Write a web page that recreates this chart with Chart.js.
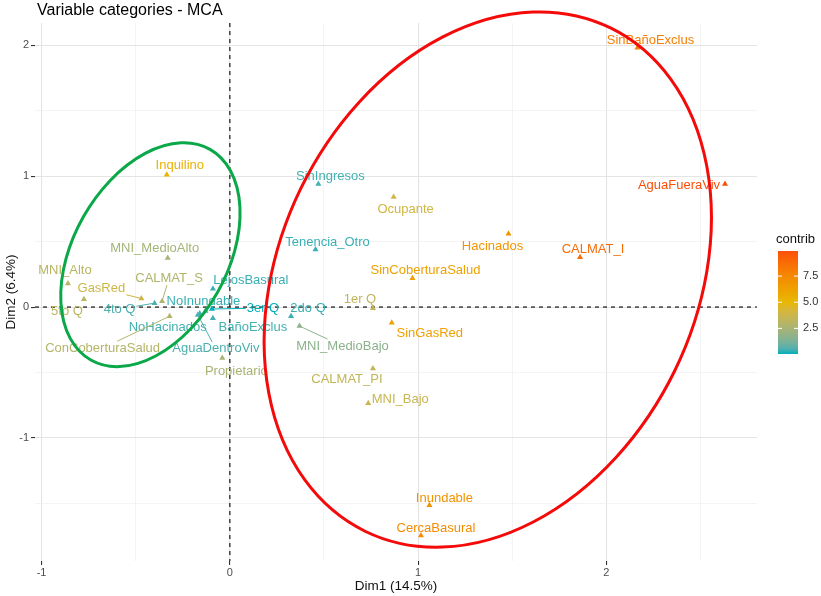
<!DOCTYPE html>
<html>
<head>
<meta charset="utf-8">
<script src="https://cdn.jsdelivr.net/npm/chart.js@4.4.1/dist/chart.umd.min.js"></script>
<style>
  html, body { margin: 0; padding: 0; background: #fff; }
  #wrap { width: 821px; height: 596px; }
</style>
</head>
<body>
<div id="wrap"><canvas id="mca" width="821" height="596"></canvas></div>
<script>
// ---- data ----
const categories = [
  'SinBañoExclus', 'AguaFueraViv', 'CALMAT_I', 'Hacinados', 'SinCoberturaSalud',
  'Ocupante', 'SinIngresos', 'Tenencia_Otro', '1er Q', 'SinGasRed',
  'MNI_MedioBajo', 'CALMAT_PI', 'MNI_Bajo', 'Inundable', 'CercaBasural',
  '2do Q', '3er Q', 'LejosBasural', 'NoInundable', 'NoHacinados',
  'AguaDentroViv', 'BañoExclus', '4to Q', '5to Q', 'GasRed',
  'MNI_Alto', 'CALMAT_S', 'ConCoberturaSalud', 'MNI_MedioAlto', 'Inquilino',
  'Propietario'
];
const dim1 = [
  2.165, 2.63, 1.86, 1.48, 0.97,
  0.87, 0.47, 0.455, 0.76, 0.86,
  0.37, 0.76, 0.735, 1.06, 1.015,
  0.325, -0.095, -0.09, -0.13, -0.16,
  -0.17, -0.09, -0.40, -0.775, -0.47,
  -0.86, -0.36, -0.32, -0.33, -0.335,
  -0.04
];
const dim2 = [
  1.98, 0.94, 0.38, 0.56, 0.22,
  0.84, 0.94, 0.44, -0.01, -0.12,
  -0.145, -0.47, -0.735, -1.515, -1.745,
  -0.07, -0.015, 0.14, -0.03, -0.05,
  -0.06, -0.085, 0.03, 0.06, 0.065,
  0.18, 0.045, -0.07, 0.375, 1.01,
  -0.39
];
const contrib = [
  8.0, 9.9, 8.8, 6.9, 6.2,
  4.0, 0.4, 0.3, 3.4, 6.3,
  1.7, 3.4, 3.6, 7.0, 7.3,
  0.3, 0.05, 0.3, 0.3, 0.4,
  0.5, 0.4, 0.5, 3.2, 3.9,
  3.1, 2.8, 2.9, 2.4, 5.3,
  2.5
];
const axisTicks = [-1, 0, 1, 2];
const legendTicks = [2.5, 5.0, 7.5];

// ---- label placement (ggrepel-like offsets, px) ----
const labelShift = [
  [13, -7], [-46, 1], [13, -8], [-16, 13], [13, -8],
  [12, 12], [12, -8], [12, -7], [-13, -9], [38, 11],
  [43, 20], [-26, 11], [32, -4], [15, -7], [15, -7],
  [17, -8], [51, -1], [38, -8], [-2, -10], [-32, 14],
  [18, 34], [40, 9], [-35, 6], [-17, 12], [-40, -10],
  [-3, -13], [7, -23], [-67, 32], [-13, -10], [13, -9],
  [14, 13]
];
const withSegment = ['MNI_MedioBajo', '3er Q', '4to Q', 'GasRed', 'CALMAT_S', 'ConCoberturaSalud', 'AguaDentroViv'];

const gradientCols = ['#00AFBB', '#E7B800', '#FC4E07'];
const cMin = Math.min(...contrib), cMax = Math.max(...contrib);

// colour ramp interpolated in CIELAB, like ggplot's gradientn
function toLab(hex) {
  const rgb = [1, 3, 5].map(i => {
    const c = parseInt(hex.slice(i, i + 2), 16) / 255;
    return c <= 0.04045 ? c / 12.92 : Math.pow((c + 0.055) / 1.055, 2.4);
  });
  const X = (rgb[0] * 0.4124 + rgb[1] * 0.3576 + rgb[2] * 0.1805) / 0.95047;
  const Y = rgb[0] * 0.2126 + rgb[1] * 0.7152 + rgb[2] * 0.0722;
  const Z = (rgb[0] * 0.0193 + rgb[1] * 0.1192 + rgb[2] * 0.9505) / 1.08883;
  const f = t => t > 0.008856 ? Math.cbrt(t) : 7.787 * t + 16 / 116;
  return [116 * f(Y) - 16, 500 * (f(X) - f(Y)), 200 * (f(Y) - f(Z))];
}
function fromLab(lab) {
  const fy = (lab[0] + 16) / 116, fx = fy + lab[1] / 500, fz = fy - lab[2] / 200;
  const g = t => t * t * t > 0.008856 ? t * t * t : (t - 16 / 116) / 7.787;
  const X = g(fx) * 0.95047, Y = g(fy), Z = g(fz) * 1.08883;
  const lin = [
    X * 3.2406 + Y * -1.5372 + Z * -0.4986,
    X * -0.9689 + Y * 1.8758 + Z * 0.0415,
    X * 0.0557 + Y * -0.2040 + Z * 1.0570
  ];
  return 'rgb(' + lin.map(c => {
    const v = c <= 0.0031308 ? 12.92 * c : 1.055 * Math.pow(c, 1 / 2.4) - 0.055;
    return Math.round(Math.min(1, Math.max(0, v)) * 255);
  }).join(',') + ')';
}
const labStops = gradientCols.map(toLab);
function rampAt(t) {
  let a, b;
  if (t <= 0.5) { a = labStops[0]; b = labStops[1]; t = t * 2; }
  else { a = labStops[1]; b = labStops[2]; t = (t - 0.5) * 2; }
  return fromLab(a.map((v, i) => v + (b[i] - v) * t));
}
const colorFor = v => rampAt((v - cMin) / (cMax - cMin));
const pointColors = contrib.map(colorFor);

const FONT = '"Liberation Sans", Arial, sans-serif';

// zero reference lines
const zeroLines = {
  id: 'zeroLines',
  beforeDatasetsDraw(chart) {
    const { ctx, chartArea: a, scales: { x, y } } = chart;
    ctx.save();
    ctx.strokeStyle = '#000';
    ctx.lineWidth = 1.1;
    ctx.setLineDash([4, 4]);
    const x0 = x.getPixelForValue(0), y0 = y.getPixelForValue(0);
    ctx.beginPath(); ctx.moveTo(x0, a.top); ctx.lineTo(x0, a.bottom); ctx.stroke();
    ctx.beginPath(); ctx.moveTo(a.left, y0); ctx.lineTo(a.right, y0); ctx.stroke();
    ctx.restore();
  }
};

// text labels next to each point
const pointLabels = {
  id: 'pointLabels',
  afterDatasetsDraw(chart) {
    const ctx = chart.ctx;
    const meta = chart.getDatasetMeta(0);
    ctx.save();
    ctx.font = '13px ' + FONT;
    ctx.textAlign = 'center';
    ctx.textBaseline = 'middle';
    meta.data.forEach((pt, i) => {
      const lx = pt.x + labelShift[i][0], ly = pt.y + labelShift[i][1];
      const col = pointColors[i];
      if (withSegment.includes(categories[i])) {
        const w = ctx.measureText(categories[i]).width / 2 + 1, h = 7;
        const dx = lx - pt.x, dy = ly - pt.y;
        const s = Math.min(Math.abs(dx) > 0 ? w / Math.abs(dx) : 1e9, Math.abs(dy) > 0 ? h / Math.abs(dy) : 1e9);
        const ex = lx - dx * s, ey = ly - dy * s;
        ctx.strokeStyle = col;
        ctx.lineWidth = 1;
        ctx.beginPath(); ctx.moveTo(pt.x, pt.y); ctx.lineTo(ex, ey); ctx.stroke();
      }
      ctx.fillStyle = col;
      ctx.fillText(categories[i], lx, ly);
    });
    ctx.restore();
  }
};

// hand-drawn ellipses (center in data units, radii in px)
const ellipses = [
  { cx: -0.422, cy: 0.40, rx: 121, ry: 77, angle: -60.5, color: '#0BA84A' },
  { cx: 1.37, cy: 0.21, rx: 280, ry: 208, angle: -64, color: '#F50A0A' }
];
const ellipsePlugin = {
  id: 'ellipses',
  afterDatasetsDraw(chart) {
    const { ctx, scales: { x, y } } = chart;
    ctx.save();
    ctx.lineWidth = 3;
    ellipses.forEach(e => {
      ctx.strokeStyle = e.color;
      ctx.beginPath();
      ctx.ellipse(x.getPixelForValue(e.cx), y.getPixelForValue(e.cy), e.rx, e.ry, e.angle * Math.PI / 180, 0, Math.PI * 2);
      ctx.stroke();
    });
    ctx.restore();
  }
};

// title + colour bar legend
const decor = {
  id: 'decor',
  afterDraw(chart) {
    const ctx = chart.ctx;
    ctx.save();
    ctx.fillStyle = '#000';
    ctx.font = '16px ' + FONT;
    ctx.textBaseline = 'middle';
    ctx.textAlign = 'left';
    ctx.fillText('Variable categories - MCA', 37, 11);

    const bx = 778, bw = 20, top = 251, bot = 354;
    ctx.font = '13px ' + FONT;
    ctx.fillStyle = '#111';
    ctx.fillText('contrib', 776, 239);
    const g = ctx.createLinearGradient(0, bot, 0, top);
    for (let k = 0; k <= 20; k++) g.addColorStop(k / 20, rampAt(k / 20));
    ctx.fillStyle = g;
    ctx.fillRect(bx, top, bw, bot - top);
    ctx.font = '11px ' + FONT;
    legendTicks.forEach(v => {
      const py = bot - (v - cMin) / (cMax - cMin) * (bot - top);
      ctx.strokeStyle = '#fff';
      ctx.lineWidth = 1;
      ctx.beginPath(); ctx.moveTo(bx, py); ctx.lineTo(bx + 4, py); ctx.stroke();
      ctx.beginPath(); ctx.moveTo(bx + bw - 4, py); ctx.lineTo(bx + bw, py); ctx.stroke();
      ctx.fillStyle = '#333';
      ctx.fillText(v.toFixed(1), 803, py);
    });
    ctx.restore();
  }
};

const isMajor = v => axisTicks.some(t => Math.abs(t - v) < 1e-9);
const gridOpts = {
  color: c => isMajor(c.tick.value) ? '#E4E4E4' : '#EFEFEF',
  lineWidth: c => isMajor(c.tick.value) ? 1.1 : 0.7,
  tickLength: 4,
  tickColor: c => isMajor(c.tick.value) ? '#333' : 'rgba(0,0,0,0)'
};

new Chart(document.getElementById('mca'), {
  type: 'scatter',
  data: {
    datasets: [{
      data: categories.map((n, i) => ({ x: dim1[i], y: dim2[i] })),
      pointStyle: 'triangle',
      radius: 3.5,
      borderWidth: 0,
      backgroundColor: pointColors,
      pointBackgroundColor: pointColors
    }]
  },
  options: {
    responsive: false,
    animation: false,
    layout: { padding: { top: 23, right: 64, bottom: 0, left: 0 } },
    plugins: { legend: { display: false }, tooltip: { enabled: false }, title: { display: false } },
    scales: {
      x: {
        type: 'linear', min: -1.035, max: 2.8,
        afterFit: s => { s.height = 35; },
        border: { display: false },
        grid: gridOpts,
        ticks: {
          stepSize: 0.5, includeBounds: false, autoSkip: false, maxRotation: 0,
          padding: 1, color: '#4D4D4D', font: { size: 11, family: FONT },
          callback: v => isMajor(v) ? String(v) : ''
        },
        title: { display: true, text: 'Dim1 (14.5%)', color: '#111', font: { size: 13.5, family: FONT }, padding: { top: 0, bottom: 2 } }
      },
      y: {
        type: 'linear', min: -1.94, max: 2.17,
        afterFit: s => { s.width = 35; },
        border: { display: false },
        grid: gridOpts,
        ticks: {
          stepSize: 0.5, includeBounds: false, autoSkip: false,
          padding: 2, color: '#4D4D4D', font: { size: 11, family: FONT },
          callback: v => isMajor(v) ? String(v) : ''
        },
        title: { display: true, text: 'Dim2 (6.4%)', color: '#111', font: { size: 13.5, family: FONT }, padding: { top: 3, bottom: 0 } }
      }
    }
  },
  plugins: [zeroLines, pointLabels, ellipsePlugin, decor]
});
</script>
</body>
</html>
